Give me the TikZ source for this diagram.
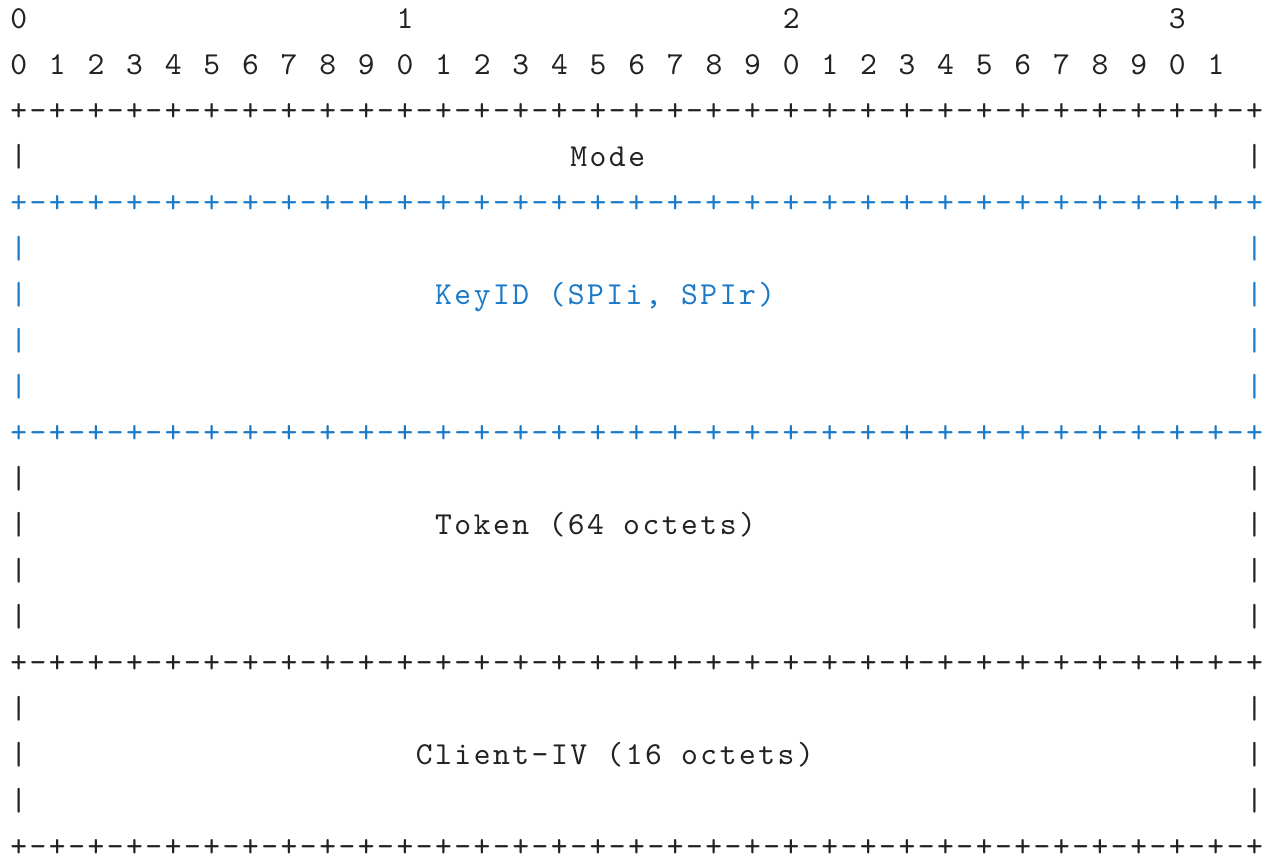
\documentclass[tikz,border=0pt]{standalone}
\usepackage{fontspec}
\setmonofont[LetterSpace=7.84]{lmmono10-regular.otf}
\definecolor{ink}{RGB}{34,34,34}
\definecolor{keyblue}{RGB}{26,122,200}
\tikzset{
  txt/.style = {anchor=base west, inner sep=0pt, outer sep=0pt, text=#1,
                text depth=0pt, font=\ttfamily\fontsize{32}{46}\selectfont},
  txt/.default = ink
}

\begin{document}
\begin{tikzpicture}[x=1pt,y=1pt]
	\def \cw{19.31}  % one character
	\def \lh{46}     % one line
	\def \xl{10.35}  % left edge of column 0
	\def \yb{-28.3}  % baseline of line 0
	\def \border{+-+-+-+-+-+-+-+-+-+-+-+-+-+-+-+-+-+-+-+-+-+-+-+-+-+-+-+-+-+-+-+-+}

	\useasboundingbox (0,0) rectangle (1266,-860);

	% Bit ruler
	\node[txt] (tens0) at (\xl,        \yb) {0};
	\node[txt] (tens1) at (\xl+20*\cw, \yb) {1};
	\node[txt] (tens2) at (\xl+40*\cw, \yb) {2};
	\node[txt] (tens3) at (\xl+60*\cw, \yb) {3};
	\foreach \b in {0,...,31} {
		\pgfmathtruncatemacro{\d}{mod(\b,10)}
		\node[txt] (bit\b) at (\xl+2*\b*\cw, \yb-\lh) {\d};
	}

	% Borders
	\node[txt]         (border2)  at (\xl, \yb-2*\lh)  {\border};
	\node[txt=keyblue] (border4)  at (\xl, \yb-4*\lh)  {\border};
	\node[txt=keyblue] (border9)  at (\xl, \yb-9*\lh)  {\border};
	\node[txt]         (border14) at (\xl, \yb-14*\lh) {\border};
	\node[txt]         (border18) at (\xl, \yb-18*\lh) {\border};

	% Side bars
	\foreach \r/\c in {3/ink, 5/keyblue, 6/keyblue, 7/keyblue, 8/keyblue,
	                   10/ink, 11/ink, 12/ink, 13/ink, 15/ink, 16/ink, 17/ink} {
		\node[txt=\c] (lbar\r) at (\xl,        \yb-\r*\lh) {|};
		\node[txt=\c] (rbar\r) at (\xl+64*\cw, \yb-\r*\lh) {|};
	}

	% Fields
	\node[txt]         (mode)     at (\xl+29*\cw, \yb-3*\lh)  {Mode};
	\node[txt=keyblue] (keyid)    at (\xl+22*\cw, \yb-6*\lh)  {KeyID (SPIi, SPIr)};
	\node[txt]         (token)    at (\xl+22*\cw, \yb-11*\lh) {Token (64 octets)};
	\node[txt]         (clientiv) at (\xl+21*\cw, \yb-16*\lh) {Client-IV (16 octets)};
\end{tikzpicture}
\end{document}
